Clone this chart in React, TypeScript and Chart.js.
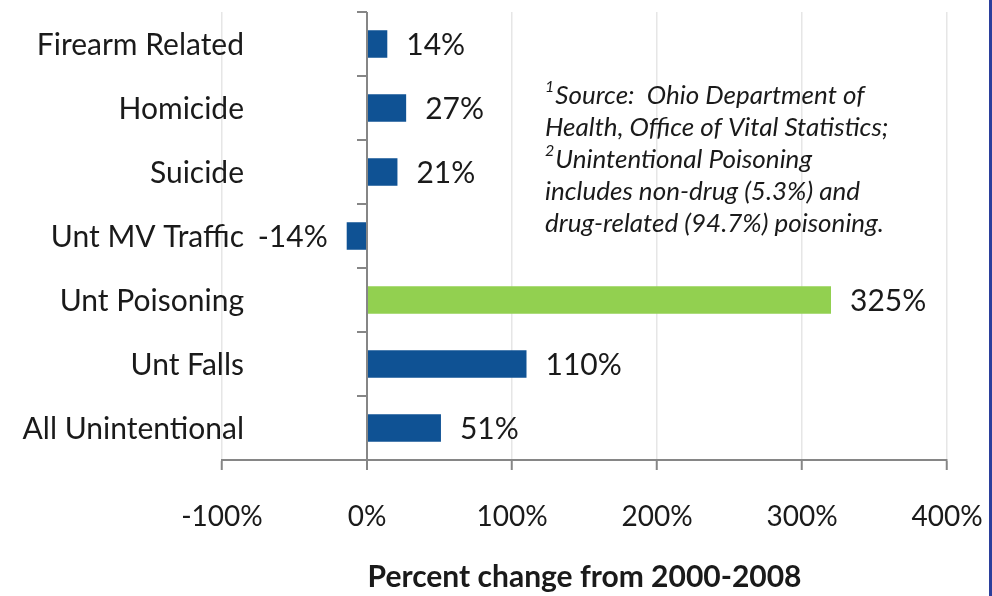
import React, { useEffect, useRef } from 'react';
import { Chart, registerables } from 'chart.js';

Chart.register(...registerables);

const categories = [
  'Firearm Related',
  'Homicide',
  'Suicide',
  'Unt MV Traffic',
  'Unt Poisoning',
  'Unt Falls',
  'All Unintentional',
];
const percentChange = [14, 27, 21, -14, 320, 110, 51];
const valueLabels = ['14%', '27%', '21%', '-14%', '325%', '110%', '51%'];
const highlighted = [false, false, false, false, true, false, false];
const xMin = -100;
const xMax = 400;
const xStep = 100;
const axisTitle = 'Percent change from 2000-2008';
const noteSup = ['1', '', '2', '', ''];
const noteLines = [
  'Source:  Ohio Department of',
  'Health, Office of Vital Statistics;',
  'Unintentional Poisoning',
  'includes non-drug (5.3%) and',
  'drug-related (94.7%) poisoning.',
];

const BLUE = '#0f5294';
const GREEN = '#92d050';
const TEXT = '#1a1a1a';
const AXIS = '#868686';
const GRID = '#e6e6e6';
const FONT = 'Lato';

const extrasPlugin = {
  id: 'extras',
  afterDraw(chart: any) {
    const { ctx, chartArea } = chart;
    const x = chart.scales.x;
    const y = chart.scales.y;
    ctx.save();
    // category boundary tick marks on the zero line
    const zero = x.getPixelForValue(0);
    const half = (y.getPixelForValue(1) - y.getPixelForValue(0)) / 2;
    ctx.strokeStyle = AXIS;
    ctx.lineWidth = 2;
    for (let i = 0; i <= categories.length; i++) {
      const py = Math.round(y.getPixelForValue(i) - half);
      ctx.beginPath();
      ctx.moveTo(zero - 10, py);
      ctx.lineTo(zero, py);
      ctx.stroke();
    }
    // category labels
    ctx.font = `30px ${FONT}`;
    ctx.fillStyle = TEXT;
    ctx.textBaseline = 'middle';
    ctx.textAlign = 'right';
    categories.forEach((c, i) => {
      ctx.fillText(c, chartArea.left + 22, y.getPixelForValue(i) + 1);
    });
    // value labels
    const meta = chart.getDatasetMeta(0);
    meta.data.forEach((bar: any, i: number) => {
      if (percentChange[i] >= 0) {
        ctx.textAlign = 'left';
        ctx.fillText(valueLabels[i], bar.x + 19, bar.y + 1);
      } else {
        ctx.textAlign = 'right';
        ctx.fillText(valueLabels[i], bar.x - 19, bar.y + 1);
      }
    });
    // note
    ctx.textBaseline = 'alphabetic';
    ctx.textAlign = 'left';
    const left = chartArea.left + 323;
    noteLines.forEach((line, i) => {
      const by = chartArea.top + 92 + i * 32;
      let px = left;
      if (noteSup[i]) {
        ctx.font = `italic 16px ${FONT}`;
        ctx.fillText(noteSup[i], px, by - 12);
        px += ctx.measureText(noteSup[i]).width + 1;
      }
      ctx.font = `italic 26px ${FONT}`;
      ctx.fillText(line, px, by);
    });
    ctx.restore();
  },
};

export default function App() {
  const ref = useRef<HTMLCanvasElement>(null);
  useEffect(() => {
    if (!ref.current) return;
    const chart = new Chart(ref.current, {
      type: 'bar',
      data: {
        labels: categories,
        datasets: [
          {
            data: percentChange,
            backgroundColor: highlighted.map((h) => (h ? GREEN : BLUE)),
            borderWidth: 0,
            categoryPercentage: 1,
            barPercentage: 0.43,
          },
        ],
      },
      options: {
        indexAxis: 'y',
        animation: false,
        responsive: false,
        layout: { padding: { top: 12, right: 45, left: 0, bottom: 0 } },
        plugins: { legend: { display: false }, tooltip: { enabled: false } },
        scales: {
          x: {
            min: xMin,
            max: xMax,
            ticks: {
              stepSize: xStep,
              padding: 30,
              color: TEXT,
              font: { family: FONT, size: 28 },
              callback: (v: any) => `${v}%`,
            },
            grid: {
              color: (c: any) => (c.tick && c.tick.value === 0 ? AXIS : GRID),
              lineWidth: (c: any) => (c.tick && c.tick.value === 0 ? 2 : 1.5),
              tickColor: AXIS,
              tickLength: 10,
              tickWidth: 2,
            },
            border: { display: true, color: AXIS, width: 2 },
            title: {
              display: true,
              text: axisTitle,
              color: TEXT,
              font: { family: FONT, size: 30, weight: 'bold' },
              padding: { top: 10, bottom: 1 },
            },
            afterFit: (s: any) => {
              s.height = 136;
              s.paddingLeft = 0;
              s.paddingRight = 0;
            },
          },
          y: {
            ticks: { display: false },
            grid: { display: false, drawTicks: false },
            border: { display: false },
            afterFit: (s: any) => {
              s.width = 222;
            },
          },
        },
      },
      plugins: [extrasPlugin],
    });
    return () => chart.destroy();
  }, []);
  return (
    <div style={{ position: 'absolute', left: 0, top: 0, width: 992, height: 596, background: '#fff' }}>
      <canvas ref={ref} width={992} height={596} />
      <div style={{ position: 'absolute', left: 989, top: 0, width: 3, height: 596, background: '#2b3f9c' }} />
    </div>
  );
}
